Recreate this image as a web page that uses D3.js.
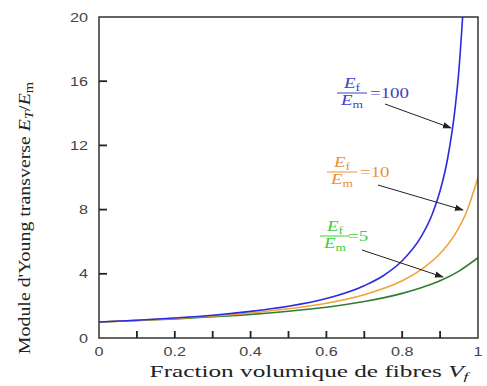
<!DOCTYPE html>
<html>
<head>
<meta charset="utf-8">
<script src="https://cdn.jsdelivr.net/npm/d3@7"></script>
<style>
  body { margin: 0; background: #fff; }
  svg { display: block; }
  .tick-label { font-family: "Liberation Sans", Arial, sans-serif; font-size: 12px; fill: #444; }
  .axis-title { font-family: "Liberation Serif", "Times New Roman", serif; fill: #222; }
  .note { font-family: "Liberation Serif", "Times New Roman", serif; font-size: 14px; }
  .tick-mark { stroke: #222; stroke-width: 1.8px; }
</style>
</head>
<body>
<div id="chart"></div>
<script>
// readings (Vf vs ET/Em)
const vfBlue  = [0, 0.1, 0.2, 0.3, 0.4, 0.5, 0.6, 0.7, 0.75, 0.8, 0.85, 0.88, 0.9, 0.92, 0.94, 0.95, 0.96];
const etBlue  = [1, 1.11, 1.25, 1.42, 1.66, 1.98, 2.46, 3.26, 3.88, 4.81, 6.31, 7.76, 9.17, 11.2, 14.4, 16.8, 20.2];
const vfOrange = [0, 0.1, 0.2, 0.3, 0.4, 0.5, 0.6, 0.7, 0.75, 0.8, 0.85, 0.9, 0.94, 0.97, 1];
const etOrange = [1, 1.10, 1.22, 1.37, 1.56, 1.82, 2.17, 2.70, 3.08, 3.57, 4.26, 5.26, 6.49, 7.87, 10];
const vfGreen = [0, 0.1, 0.2, 0.3, 0.4, 0.5, 0.6, 0.7, 0.8, 0.85, 0.9, 0.95, 1];
const etGreen = [1, 1.09, 1.19, 1.32, 1.47, 1.67, 1.92, 2.27, 2.78, 3.13, 3.57, 4.17, 5];
const xTicks = [0, 0.2, 0.4, 0.6, 0.8, 1];
const xMinor = [0.1, 0.2, 0.3, 0.4, 0.5, 0.6, 0.7, 0.8, 0.9];
const yTicks = [0, 4, 8, 12, 16, 20];
const ratioLabels = ["100", "10", "5"];

const W = 487, H = 386;
const margin = { top: 17, right: 9, bottom: 48, left: 99 };
const width = W - margin.left - margin.right;
const height = H - margin.top - margin.bottom;
// the picture is stretched sideways, so is its text
const sx = 1.35;

const svg = d3.select('#chart').append('svg')
  .attr('width', W)
  .attr('height', H);

const defs = svg.append('defs');
defs.append('clipPath')
  .attr('id', 'plot-clip')
  .append('rect')
  .attr('x', 0).attr('y', 0)
  .attr('width', width).attr('height', height);

defs.append('marker')
  .attr('id', 'arrow')
  .attr('viewBox', '0 0 10 10')
  .attr('refX', 9).attr('refY', 5)
  .attr('markerWidth', 9).attr('markerHeight', 9)
  .attr('markerUnits', 'userSpaceOnUse')
  .attr('orient', 'auto')
  .append('path')
  .attr('d', 'M0,1.5 L10,5 L0,8.5 Z')
  .attr('fill', '#222');

const g = svg.append('g')
  .attr('transform', 'translate(' + margin.left + ',' + margin.top + ')');

const x = d3.scaleLinear().domain([0, 1]).range([0, width]);
const y = d3.scaleLinear().domain([0, 20]).range([height, 0]);

// curves
const line = d3.line()
  .x(d => x(d[0]))
  .y(d => y(d[1]))
  .curve(d3.curveMonotoneX);

const series = [
  { vf: vfGreen, et: etGreen, color: '#2e7d32' },
  { vf: vfOrange, et: etOrange, color: '#f2a23a' },
  { vf: vfBlue, et: etBlue, color: '#2b2be0' }
];

g.append('g')
  .attr('clip-path', 'url(#plot-clip)')
  .selectAll('path')
  .data(series)
  .enter()
  .append('path')
  .attr('d', s => line(d3.zip(s.vf, s.et)))
  .attr('fill', 'none')
  .attr('stroke', s => s.color)
  .attr('stroke-width', 1.6);

// frame
g.append('rect')
  .attr('x', 0).attr('y', 0)
  .attr('width', width).attr('height', height)
  .attr('fill', 'none')
  .attr('stroke', '#333')
  .attr('stroke-width', 1.5);

// x ticks (inward)
g.selectAll('line.xminor')
  .data(xMinor)
  .enter()
  .append('line')
  .attr('class', 'xminor tick-mark')
  .attr('x1', d => x(d)).attr('x2', d => x(d))
  .attr('y1', height).attr('y2', height - 7);

g.selectAll('text.xlabel')
  .data(xTicks)
  .enter()
  .append('text')
  .attr('class', 'xlabel tick-label')
  .attr('transform', d => 'translate(' + x(d) + ',' + (height + 18) + ') scale(' + sx + ',1)')
  .attr('text-anchor', 'middle')
  .text(d => d3.format('~g')(d));

// y ticks (inward)
g.selectAll('line.ytick')
  .data(yTicks.filter(d => d > 0 && d < 20))
  .enter()
  .append('line')
  .attr('class', 'ytick tick-mark')
  .attr('x1', 0).attr('x2', 8)
  .attr('y1', d => y(d)).attr('y2', d => y(d));

g.selectAll('text.ylabel')
  .data(yTicks)
  .enter()
  .append('text')
  .attr('class', 'ylabel tick-label')
  .attr('transform', d => 'translate(-11,' + (y(d) + 4.5) + ') scale(' + sx + ',1)')
  .attr('text-anchor', 'end')
  .text(d => d);

// annotations: fraction Ef/Em = value, with arrow
const notes = [
  { label: ratioLabels[0], color: '#4040c8', fx: 352, fy: 93, eqx: 370, from: [385, 104], to: [451, 128] },
  { label: ratioLabels[1], color: '#e8913a', fx: 342, fy: 172, eqx: 360, from: [378, 185], to: [463, 210] },
  { label: ratioLabels[2], color: '#3ccf3c', fx: 335, fy: 236, eqx: 348, from: [362, 250], to: [443, 277] }
];

notes.forEach(n => {
  const a = svg.append('g').attr('fill', n.color);
  const num = a.append('text')
    .attr('class', 'note')
    .attr('transform', 'translate(' + n.fx + ',' + (n.fy - 5) + ') scale(' + sx + ',1)')
    .attr('text-anchor', 'middle');
  num.append('tspan').style('font-style', 'italic').text('E');
  num.append('tspan').attr('dy', 3).style('font-size', '10px').text('f');

  a.append('line')
    .attr('x1', n.fx - 15).attr('x2', n.fx + 15)
    .attr('y1', n.fy).attr('y2', n.fy)
    .attr('stroke', n.color).attr('stroke-width', 1);

  const den = a.append('text')
    .attr('class', 'note')
    .attr('transform', 'translate(' + n.fx + ',' + (n.fy + 12) + ') scale(' + sx + ',1)')
    .attr('text-anchor', 'middle');
  den.append('tspan').style('font-style', 'italic').text('E');
  den.append('tspan').attr('dy', 3).style('font-size', '10px').text('m');

  a.append('text')
    .attr('class', 'note')
    .attr('transform', 'translate(' + n.eqx + ',' + (n.fy + 5) + ') scale(' + sx + ',1)')
    .text('=' + n.label);

  svg.append('line')
    .attr('x1', n.from[0]).attr('y1', n.from[1])
    .attr('x2', n.to[0]).attr('y2', n.to[1])
    .attr('stroke', '#222').attr('stroke-width', 1)
    .attr('marker-end', 'url(#arrow)');
});

// axis titles, fitted to the span they take in the picture
const xt = svg.append('text')
  .attr('class', 'axis-title')
  .style('font-size', '16px')
  .attr('text-anchor', 'middle');
xt.append('tspan').text('Fraction volumique de fibres  ');
xt.append('tspan').style('font-style', 'italic').text('V');
xt.append('tspan').attr('dy', 3).style('font-size', '11px').style('font-style', 'italic').text('f');
const xLen = xt.node().getBBox().width;
xt.attr('transform', 'translate(309,377) scale(' + (322 / xLen) + ',1)');

const yt = svg.append('text')
  .attr('class', 'axis-title')
  .style('font-size', '15px')
  .attr('text-anchor', 'middle');
yt.append('tspan').text("Module d'Young transverse  ");
yt.append('tspan').style('font-style', 'italic').text('E');
yt.append('tspan').attr('dy', 3).style('font-size', '11px').style('font-style', 'italic').text('T');
yt.append('tspan').attr('dy', -3).text('/');
yt.append('tspan').style('font-style', 'italic').text('E');
yt.append('tspan').attr('dy', 3).style('font-size', '11px').text('m');
const yLen = yt.node().getBBox().width;
yt.attr('transform', 'translate(30,218) rotate(-90) scale(' + (273 / yLen) + ',1.15)');
</script>
</body>
</html>
